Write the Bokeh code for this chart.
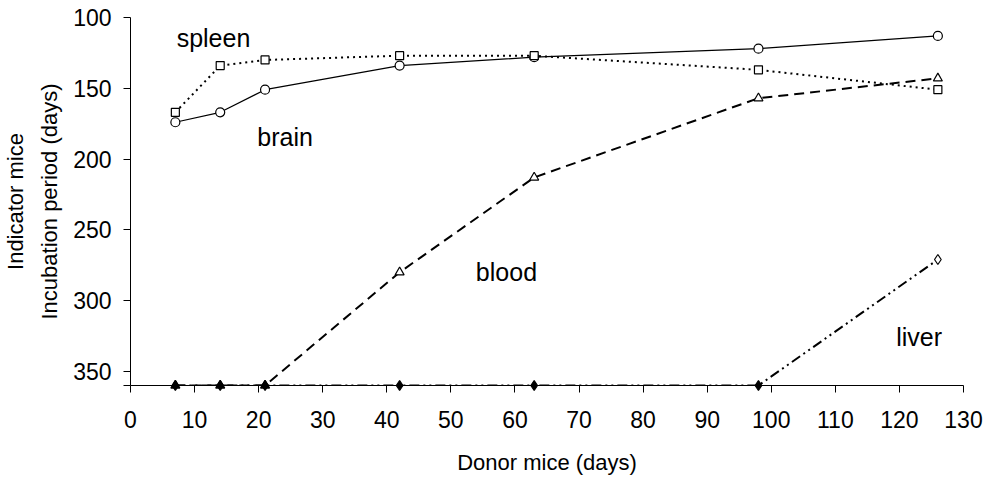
from bokeh.plotting import figure
from bokeh.models import Range1d, FixedTicker, Label
from bokeh.embed import file_html
from bokeh.resources import INLINE

# Data (donor days vs indicator incubation period, days)
days = [7, 14, 21, 42, 63, 98, 126]
brain = [174, 167, 151, 134, 128, 122, 113]
spleen = [167, 134, 130, 127, 127, 137, 151]
blood = [360, 360, 360, 280, 213, 157, 143]
liver = [360, 360, 360, 360, 360, 360, 271]

x_ticks = list(range(0, 131, 10))
y_ticks = [100, 150, 200, 250, 300, 350, 360]

FONT = "Liberation Sans"

p = figure(width=987, height=480, output_backend="svg", toolbar_location=None,
           x_range=Range1d(0, 130), y_range=Range1d(360, 100),
           min_border_left=128, min_border_right=24, min_border_top=17,
           min_border_bottom=95)
p.outline_line_color = None
p.xgrid.visible = False
p.ygrid.visible = False
p.background_fill_color = "white"

for ax in (p.xaxis[0], p.yaxis[0]):
    ax.axis_line_color = "black"
    ax.axis_line_width = 1
    ax.major_tick_line_color = "black"
    ax.major_tick_in = 0
    ax.major_tick_out = 7
    ax.minor_tick_line_color = None
    ax.major_label_text_font = FONT
    ax.major_label_text_font_size = "23px"
    ax.major_label_text_color = "black"
    ax.axis_label_text_font = FONT
    ax.axis_label_text_font_size = "22px"
    ax.axis_label_text_font_style = "normal"
    ax.axis_label_text_color = "black"

p.xaxis[0].ticker = FixedTicker(ticks=x_ticks)
p.yaxis[0].ticker = FixedTicker(ticks=y_ticks)
p.yaxis[0].major_label_overrides = {360: ""}
p.xaxis[0].major_label_standoff = 18
p.yaxis[0].major_label_standoff = 12
p.xaxis[0].axis_label = "Donor mice (days)"
p.xaxis[0].axis_label_standoff = 19
p.yaxis[0].axis_label = "Indicator mice\nIncubation period (days)"
p.yaxis[0].axis_label_standoff = 8
p.yaxis[0].axis_label_text_line_height = 1.35

def fills(vals):
    return ["black" if v >= 360 else "white" for v in vals]

# brain
p.line(days, brain, line_color="black", line_width=1.2)
p.scatter(days, brain, marker="circle", size=9, fill_color="white", line_color="black", line_width=1.2)
# spleen
p.line(days, spleen, line_color="black", line_width=2, line_dash="2 4")
p.scatter(days, spleen, marker="square", size=8, fill_color="white", line_color="black", line_width=1.2)
# liver
p.line(days, liver, line_color="black", line_width=2, line_dash="10 4 2 4 2 4")
p.scatter(days, liver, marker="diamond", size=10, fill_color=fills(liver), line_color="black",
          line_width=1.2, level="overlay")
# blood
p.line(days, blood, line_color="black", line_width=2, line_dash="10 6")
p.scatter(days, blood, marker="triangle", size=9, fill_color=fills(blood), line_color="black",
          line_width=1.2, level="overlay")

labels = [("spleen", 7.2, 114.4), ("brain", 19.8, 184.5), ("blood", 53.9, 280.1), ("liver", 119.5, 325.7)]
for txt, lx, ly in labels:
    p.add_layout(Label(x=lx, y=ly, text=txt, text_font=FONT, text_font_size="25px",
                       text_color="black", text_align="left", text_baseline="alphabetic"))

open("out.html", "w").write(file_html(p, INLINE))
